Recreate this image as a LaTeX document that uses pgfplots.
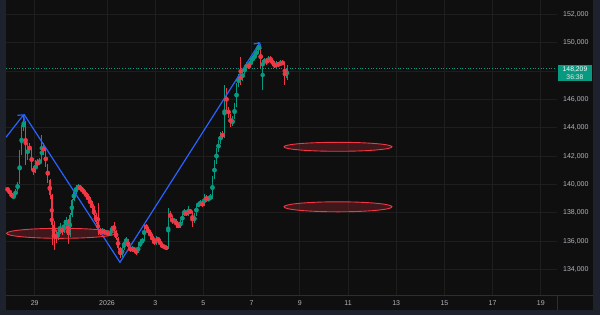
\documentclass[border=0pt]{standalone}
\usepackage{pgfplots}
\pgfplotsset{compat=1.18}
\usepackage{pgfplotstable}
\usepackage{fontspec}
\setmainfont{Liberation Sans}
\usetikzlibrary{arrows.meta}
\definecolor{bg}{HTML}{0F0F0F}
\definecolor{frame}{HTML}{1E222D}
\definecolor{gridc}{HTML}{1E1E1E}
\definecolor{up}{HTML}{089981}
\definecolor{dn}{HTML}{F23645}
\definecolor{tline}{HTML}{2962FF}
\definecolor{txt}{HTML}{B2B5BE}
\definecolor{sep}{HTML}{2A2E39}

% t = hours from 2026-01-01 00:00, 2-hour candles
\pgfplotstableread{
t o h l c
-101 139800 139900 139650 139727
-99 139727 139780 139500 139586
-97 139586 139620 139300 139374
-95 139374 139420 139050 139162
-93 139162 139300 138950 139233
-91 139233 139650 139180 139586
-89 139586 140200 139550 140080
-87 140080 142400 140000 142200
-85 142200 144200 142100 143963
-83 143963 144810 143800 144400
-81 144400 144500 141351 141845
-79 141845 142950 141700 142763
-77 142763 142900 142200 142410
-75 142410 142500 141000 141139
-73 141139 141300 140700 140857
-71 140857 141700 140800 141563
-69 141563 141800 141300 141422
-67 141422 141900 141350 141704
-65 141704 143469 141650 142763
-63 142763 142900 142100 142269
-61 142269 142400 141200 141351
-59 141351 141450 140100 140292
-57 140292 140400 139000 139233
-55 139233 139300 135703 137115
-53 137115 137400 135350 136409
-51 136409 136800 135900 136197
-49 136197 136900 136100 136621
-47 136621 137300 136500 136903
-45 136903 137100 136400 136621
-43 136621 137500 136550 137115
-41 137115 137700 137000 137468
-39 137468 137550 135800 136409
-37 136409 138000 136300 137821
-35 137821 139000 137700 138880
-33 138880 139600 138800 139445
-31 139445 139950 139350 139727
-29 139727 140000 139600 139868
-27 139868 139950 139550 139727
-25 139727 139800 139450 139586
-23 139586 139700 139250 139374
-21 139374 139500 139050 139233
-19 139233 139350 138750 138880
-17 138880 139100 138500 138668
-15 138668 138800 138150 138315
-13 138315 138450 137650 137821
-11 137821 138000 137200 137327
-9 137327 138668 136409 136762
-7 136762 136900 136450 136621
-5 136621 136950 136500 136762
-3 136762 136850 136400 136550
-1 136550 136750 136450 136621
1 136621 136700 136350 136480
3 136480 136750 136400 136621
5 136621 137100 136550 137044
7 137044 137327 136600 136700
9 136700 136800 136050 136197
11 136197 136300 135350 135491
13 135491 135600 134785 134997
15 134997 135600 134900 135491
17 135491 136100 135400 135915
19 135915 136300 135800 136056
21 136056 136150 135450 135562
23 135562 135700 135200 135350
25 135350 135650 135250 135491
27 135491 135600 135150 135350
29 135350 135500 134997 135209
31 135209 135750 135150 135632
33 135632 136100 135550 135915
35 135915 136200 135850 136056
37 136056 137256 136000 137115
39 137115 137200 136750 136903
41 136903 137000 136450 136550
43 136550 136750 136300 136409
45 136409 136500 135900 136056
47 136056 136200 135700 135844
49 135844 136350 135750 136197
51 136197 136300 135900 136056
53 136056 136150 135600 135703
55 135703 135850 135500 135632
57 135632 135750 135450 135562
59 135562 135650 135400 135491
61 135491 138315 135450 138033
63 138033 138150 137450 137609
65 137609 137750 137200 137327
67 137327 137600 137250 137468
69 137468 137550 136950 137115
71 137115 137250 136900 137044
73 137044 137500 136950 137327
75 137327 138000 137250 137892
77 137892 138300 137800 138033
79 138033 138150 137750 137892
81 137892 138450 137800 138174
83 138174 138250 137900 138033
85 138033 138100 136974 137327
87 137327 137950 137250 137821
89 137821 138650 137750 138527
91 138527 138750 138400 138598
93 138598 138900 138500 138739
95 138739 138800 138400 138527
97 138527 139300 138450 139162
99 139162 139250 138750 138880
101 138880 139200 138800 139021
103 139021 139300 138900 139092
105 139092 140600 139000 140433
107 140433 141700 140350 141563
109 141563 142600 141450 142410
111 142410 143150 142300 142975
113 142975 143700 142850 143540
115 143540 143750 143200 143400
117 143400 146999 143300 146646
119 146646 146800 145200 145375
121 145375 145500 144700 144881
123 144881 144950 144034 144175
125 144175 144800 144100 144669
127 144669 145750 144600 145587
129 145587 147150 145500 146999
131 146999 147800 146900 147634
133 147634 148976 146999 147400
135 147400 148100 147300 147917
137 147917 148400 147800 148199
139 148199 148650 148050 148482
141 148482 148600 148150 148340
143 148340 148900 148250 148764
145 148764 149050 148650 148905
147 148905 149300 148800 149117
149 149117 149600 149000 149470
151 149470 150030 149350 149752
153 149752 149800 148200 148340
155 148340 148800 146646 148623
157 148623 148950 148500 148764
159 148764 148900 148450 148623
161 148623 149100 148550 148905
163 148905 149050 148600 148764
165 148764 148850 148350 148482
167 148482 148600 148200 148340
169 148340 148700 148250 148552
171 148552 148650 148300 148411
173 148411 148800 148350 148623
175 148623 148750 148400 148552
177 148552 148600 146999 147493
179 147493 148400 147400 148209
}\candles

\pgfplotsset{
  candlepart/.style n args={2}{color=#1, only marks, mark=*,
    mark options={draw=none, fill=none}, forget plot,
    error bars/.cd, y dir=both, y explicit, error mark=none,
    error bar style={color=#1, line width=#2}, /pgfplots/.cd},
}

\begin{document}
\begin{tikzpicture}[x=1pt,y=1pt]
\fill[frame] (0,0) rectangle (600,315);
\fill[bg] (6,5) rectangle (593,315);
\draw[sep, line width=0.8pt] (6,20) -- (593,20);
\draw[sep, line width=0.8pt] (557.5,5) -- (557.5,20);
\begin{axis}[at={(6pt,20pt)}, anchor=south west, scale only axis,
  width=551pt, height=295pt,
  xmin=-100.6, xmax=448.1, ymin=132164, ymax=152988,
  scaled ticks=false,
  axis line style={draw=none},
  major tick length=0pt,
  grid=major, grid style={gridc, line width=0.9pt},
  xtick={-72,0,48,96,144,192,240,288,336,384,432},
  xticklabels={29,2026,3,5,7,9,11,13,15,17,19},
  ytick={134000,136000,138000,140000,142000,144000,146000,148000,150000,152000},
  yticklabels={{134,000},{136,000},{138,000},{140,000},{142,000},{144,000},{146,000},{},{150,000},{152,000}},
  yticklabel pos=right,
  ticklabel style={txt, font=\fontsize{7}{8}\selectfont, inner sep=0pt},
  xticklabel style={anchor=center, yshift=-8pt},
  yticklabel style={anchor=west, xshift=6pt},
  clip=true,
]
% current price line
\addplot[up, dotted, line width=0.7pt, forget plot] coordinates {(-100.6,148209) (448.1,148209)};
% wicks up
\addplot[restrict expr to domain={\thisrow{c}-\thisrow{o}}{0:100000},
  candlepart={up}{0.55pt}]
  table[x=t, y expr={(\thisrow{h}+\thisrow{l})/2}, y error expr={(\thisrow{h}-\thisrow{l})/2}]{\candles};
% bodies up
\addplot[restrict expr to domain={\thisrow{c}-\thisrow{o}}{0:100000},
  candlepart={up}{1.3pt}]
  table[x=t, y expr={(\thisrow{o}+\thisrow{c})/2}, y error expr={max(abs(\thisrow{c}-\thisrow{o})/2,25)}]{\candles};
% wicks down
\addplot[restrict expr to domain={\thisrow{c}-\thisrow{o}}{-100000:-0.5},
  candlepart={dn}{0.55pt}]
  table[x=t, y expr={(\thisrow{h}+\thisrow{l})/2}, y error expr={(\thisrow{h}-\thisrow{l})/2}]{\candles};
% bodies down
\addplot[restrict expr to domain={\thisrow{c}-\thisrow{o}}{-100000:-0.5},
  candlepart={dn}{1.3pt}]
  table[x=t, y expr={(\thisrow{o}+\thisrow{c})/2}, y error expr={max(abs(\thisrow{c}-\thisrow{o})/2,25)}]{\candles};
% zigzag trend lines
\addplot[tline, line width=1.2pt, -{Straight Barb[length=4pt,width=9pt]}, forget plot]
  coordinates {(-100.6,143328) (-82.7,144952)};
\addplot[tline, line width=1.2pt, -{Straight Barb[length=4pt,width=9pt]}, forget plot]
  coordinates {(-82.7,144952) (12.9,134503) (152.4,150035)};
% ellipses
\draw[dn, line width=0.9pt, fill=dn, fill opacity=0.22] (axis cs:-45.8,136550) ellipse [x radius=54.5pt, y radius=5pt];
\draw[dn, line width=0.9pt, fill=dn, fill opacity=0.22] (axis cs:230,142657) ellipse [x radius=54pt, y radius=4.5pt];
\draw[dn, line width=0.9pt, fill=dn, fill opacity=0.22] (axis cs:230,138421) ellipse [x radius=54pt, y radius=5pt];
\end{axis}
\fill[up] (558,234) rectangle (592,250.5);
\node[white, font=\fontsize{6.8}{7}\selectfont, inner sep=0pt] at (575,246.3) {148,209};
\node[white!85!up, font=\fontsize{6.8}{7}\selectfont, inner sep=0pt] at (575,238.6) {36:38};
\end{tikzpicture}
\end{document}
